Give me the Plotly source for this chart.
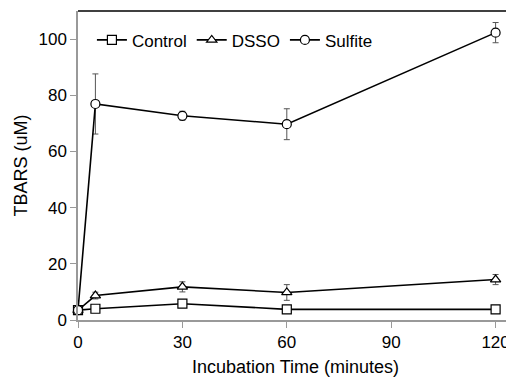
import plotly.graph_objects as go

time_min = [0, 5, 30, 60, 120]
control = [3.5, 4.0, 5.8, 3.8, 3.8]
control_err = [0.5, 0.5, 0.8, 0.4, 0.4]
dsso = [3.5, 8.7, 11.8, 9.8, 14.4]
dsso_err = [0.5, 1.2, 1.8, 2.8, 1.8]
sulfite = [3.5, 76.9, 72.7, 69.7, 102.3]
sulfite_err = [0.5, 10.7, 1.6, 5.5, 3.6]

series = [
    ("Control", control, control_err, "square"),
    ("DSSO", dsso, dsso_err, "triangle-up"),
    ("Sulfite", sulfite, sulfite_err, "circle"),
]

fig = go.Figure()
for name, vals, errs, sym in series:
    fig.add_trace(go.Scatter(
        x=time_min, y=vals, name=name, mode="lines+markers",
        line=dict(color="black", width=1.6),
        marker=dict(symbol=sym, size=9, color="white", line=dict(color="black", width=1.2)),
        error_y=dict(type="data", array=errs, visible=True, color="#555555", thickness=1, width=3),
        cliponaxis=False,
    ))

font = "Liberation Sans, Arial, sans-serif"
# page body has an 8px default margin; size the figure so the plot area lands where the reference has it
fig.update_layout(
    width=506, height=369,
    margin=dict(l=70, r=1, t=3, b=57),
    paper_bgcolor="white", plot_bgcolor="white",
    font=dict(family=font, size=17, color="black"),
    showlegend=True,
    legend=dict(orientation="h", x=0.032, y=0.905, xanchor="left", yanchor="middle",
                font=dict(size=17), itemwidth=30, tracegroupgap=0,
                bgcolor="rgba(0,0,0,0)"),
    xaxis=dict(range=[0, 125], tickvals=[0, 30, 60, 90, 120], showgrid=False, zeroline=False,
               showline=True, linecolor="#999999", linewidth=1.5,
               ticks="outside", ticklen=6, tickcolor="#999999",
               title=dict(text="Incubation Time (minutes)", font=dict(size=18), standoff=9)),
    yaxis=dict(range=[0, 110], tickvals=[0, 20, 40, 60, 80, 100], showgrid=False, zeroline=False,
               showline=True, linecolor="#999999", linewidth=1.5,
               ticks="outside", ticklen=6, tickcolor="#999999",
               title=dict(text="TBARS (uM)", font=dict(size=18), standoff=6)),
    shapes=[
        dict(type="line", xref="paper", yref="paper", x0=0, x1=1, y0=1, y1=1,
             line=dict(color="black", width=1.5)),
        dict(type="line", xref="paper", yref="paper", x0=1, x1=1, y0=0, y1=1,
             line=dict(color="black", width=1.5)),
    ],
)

fig.write_html("out.html")
